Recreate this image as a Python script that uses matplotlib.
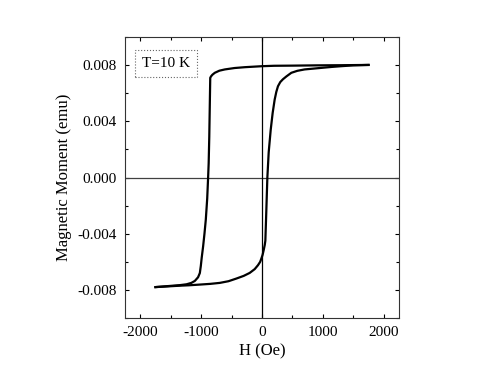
import matplotlib
matplotlib.use("Agg")
import matplotlib.pyplot as plt
from matplotlib.ticker import MultipleLocator

plt.rcParams['font.family'] = ['Liberation Serif', 'DejaVu Serif']
plt.rcParams['font.size'] = 11
plt.rcParams['axes.unicode_minus'] = False

# sestupna vetev (od +H do -H)
h_down = [1750, 1300, 900, 500, 200, 0, -280, -450, -610, -700, -775, -815, -838,
          -850, -858, -866, -876, -885, -900, -923, -945, -967, -990, -1005, -1021,
          -1050, -1103, -1160, -1240, -1350, -1550, -1750]
m_down = [0.00802, 0.00800, 0.00799, 0.00797, 0.00796, 0.00793, 0.00786, 0.00780,
          0.00770, 0.00761, 0.00746, 0.00732, 0.00720, 0.00710, 0.00500, 0.00290,
          0.00100, 0.00000, -0.00150, -0.00300, -0.00400, -0.00490, -0.00570,
          -0.00630, -0.00680, -0.00710, -0.00736, -0.00750, -0.00760, -0.00766,
          -0.00773, -0.00780]

# vzestupna vetev (od -H do +H)
h_up = [-1750, -1550, -1350, -1200, -1020, -850, -693, -550, -420, -300, -202, -120,
        -66, -30, -10, 10, 28, 45, 55, 70, 88, 110, 143, 175, 208, 235, 262, 300,
        344, 400, 482, 580, 700, 850, 973, 1150, 1301, 1500, 1750]
m_up = [-0.00780, -0.00775, -0.00770, -0.00767, -0.00762, -0.00757, -0.00750,
        -0.00738, -0.00719, -0.00700, -0.00679, -0.00652, -0.00624, -0.00600,
        -0.00576, -0.00550, -0.00516, -0.00480, -0.00450, -0.00250, 0.00000,
        0.00180, 0.00340, 0.00460, 0.00555, 0.00610, 0.00650, 0.00680, 0.00700,
        0.00720, 0.00746, 0.00760, 0.00770, 0.00776, 0.00781, 0.00788, 0.00793,
        0.00799, 0.00802]

label_text = "T=10 K"

fig = plt.figure(figsize=(5, 3.75), dpi=100)
ax = fig.add_axes([0.25, 0.152, 0.548, 0.749])

ax.axhline(0, color='0.25', lw=0.9)
ax.axvline(0, color='black', lw=0.9)
ax.plot(h_down, m_down, color='black', lw=1.6)
ax.plot(h_up, m_up, color='black', lw=1.6)

ax.set_xlim(-2250, 2250)
ax.set_ylim(-0.01, 0.01)
ax.xaxis.set_major_locator(MultipleLocator(1000))
ax.xaxis.set_minor_locator(MultipleLocator(500))
ax.yaxis.set_major_locator(MultipleLocator(0.004))
ax.yaxis.set_minor_locator(MultipleLocator(0.002))
ax.yaxis.set_major_formatter(plt.FuncFormatter(lambda v, p: f"{v:.3f}"))
ax.tick_params(which='both', direction='in', top=True, right=True, width=0.8)
ax.tick_params(which='major', length=3, pad=6)
ax.tick_params(which='minor', length=2)
for s in ax.spines.values():
    s.set_linewidth(0.8)
    s.set_color('0.2')

ax.set_xlabel("H (Oe)", fontsize=12, labelpad=3)
ax.set_ylabel("Magnetic Moment (emu)", fontsize=12, labelpad=4)

ax.text(0.151, 0.906, label_text, transform=ax.transAxes, ha='center', va='center',
        bbox=dict(boxstyle='square,pad=0.45', fc='white', ec='0.4', ls=':', lw=0.8))

fig.savefig("out.png", dpi=100)
